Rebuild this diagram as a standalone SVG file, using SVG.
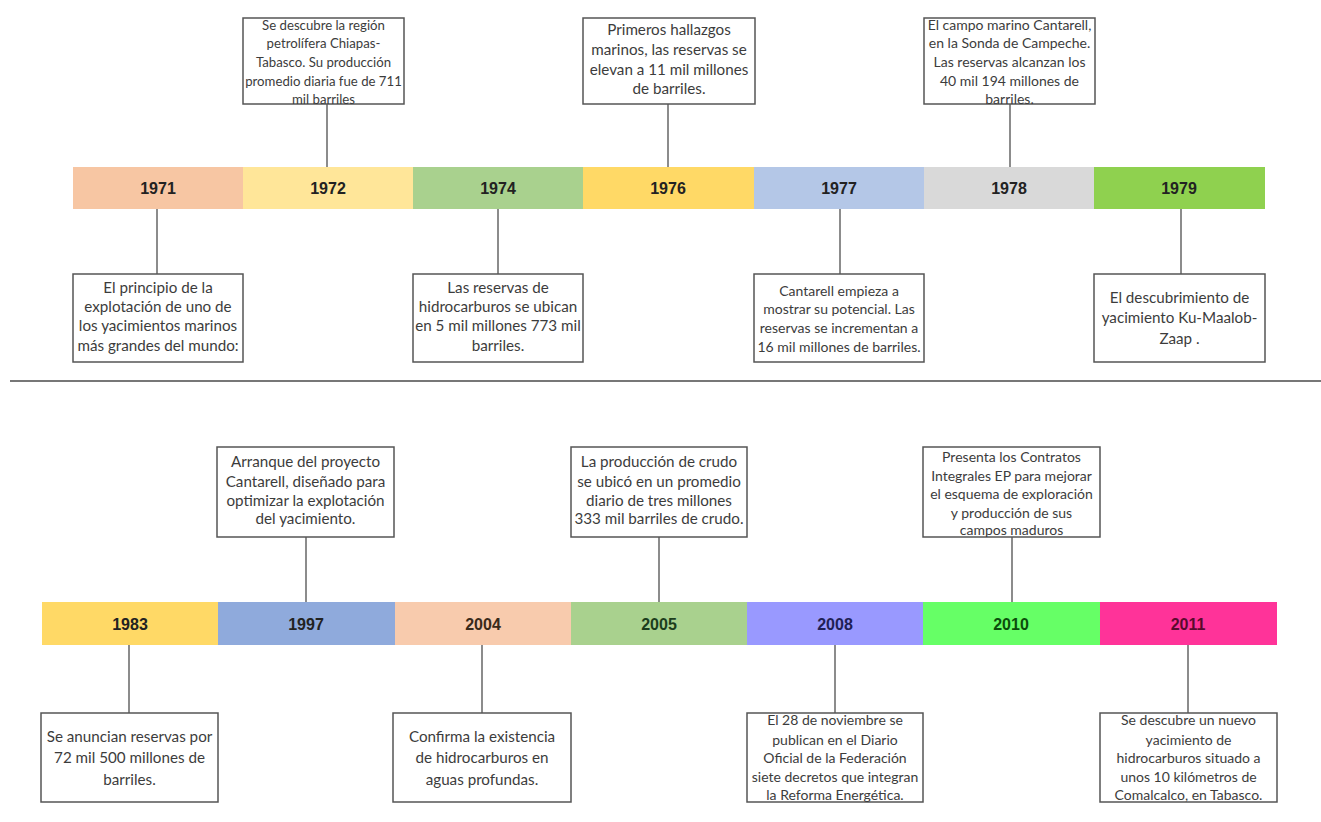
<svg xmlns="http://www.w3.org/2000/svg" width="1321" height="822" viewBox="0 0 1321 822">
<style>
.yr{font-family:"Liberation Sans",Arial,sans-serif;font-weight:bold;font-size:16px;text-anchor:middle;fill:#222}
.box{fill:#fff;stroke:#555;stroke-width:1.5}
.t{font-family:Lato,"Open Sans",sans-serif;font-size:15.2px;text-anchor:middle;fill:#3c3c3c}
.s{font-size:14px}
.xs{font-size:13.2px}
.con line{stroke:#666;stroke-width:1.5}
</style>
<rect width="1321" height="822" fill="#fff"/>
<g class="con" id="connectors">
<line x1="327" y1="104" x2="327" y2="167"/>
<line x1="668" y1="104" x2="668" y2="167"/>
<line x1="1010" y1="104" x2="1010" y2="167"/>
<line x1="157" y1="209" x2="157" y2="274"/>
<line x1="498" y1="209" x2="498" y2="274"/>
<line x1="840" y1="209" x2="840" y2="274"/>
<line x1="1181" y1="209" x2="1181" y2="274"/>
<line x1="306" y1="537" x2="306" y2="602"/>
<line x1="659" y1="537" x2="659" y2="602"/>
<line x1="1012" y1="537" x2="1012" y2="602"/>
<line x1="129" y1="645" x2="129" y2="713"/>
<line x1="482" y1="645" x2="482" y2="713"/>
<line x1="835" y1="645" x2="835" y2="713"/>
<line x1="1188" y1="645" x2="1188" y2="713"/>
</g>
<line id="separator" x1="10" y1="381" x2="1321" y2="381" stroke="#777" stroke-width="2"/>
<g id="bar1">
<rect x="73" y="167" width="170" height="42" fill="#F7C6A3"/>
<rect x="243" y="167" width="170" height="42" fill="#FFE699"/>
<rect x="413" y="167" width="170" height="42" fill="#A9D18E"/>
<rect x="583" y="167" width="171" height="42" fill="#FFD966"/>
<rect x="754" y="167" width="170" height="42" fill="#B4C7E7"/>
<rect x="924" y="167" width="170" height="42" fill="#D9D9D9"/>
<rect x="1094" y="167" width="171" height="42" fill="#8FD14F"/>
<text class="yr" x="158" y="194">1971</text>
<text class="yr" x="328" y="194">1972</text>
<text class="yr" x="498" y="194">1974</text>
<text class="yr" x="668" y="194">1976</text>
<text class="yr" x="839" y="194">1977</text>
<text class="yr" x="1009" y="194">1978</text>
<text class="yr" x="1179" y="194">1979</text>
</g>
<g id="bar2">
<rect x="42" y="602" width="176" height="43" fill="#FFD966"/>
<rect x="218" y="602" width="177" height="43" fill="#8FAADC"/>
<rect x="395" y="602" width="176" height="43" fill="#F8CBAD"/>
<rect x="571" y="602" width="176" height="43" fill="#A9D18E"/>
<rect x="747" y="602" width="176" height="43" fill="#9999FF"/>
<rect x="923" y="602" width="177" height="43" fill="#66FF66"/>
<rect x="1100" y="602" width="177" height="43" fill="#FF3399"/>
<text class="yr" x="130" y="630">1983</text>
<text class="yr" x="306" y="630">1997</text>
<text class="yr" x="483" y="630" style="fill:#3a2a1a">2004</text>
<text class="yr" x="659" y="630" style="fill:#1c3d1c">2005</text>
<text class="yr" x="835" y="630" style="fill:#1f1f55">2008</text>
<text class="yr" x="1011" y="630" style="fill:#0b4d0b">2010</text>
<text class="yr" x="1188" y="630" style="fill:#5a0a2e">2011</text>
</g>
<g id="n1972">
<rect class="box" x="243" y="18" width="161" height="86"/>
<text class="t xs" x="323.5" y="30">Se descubre  la región</text>
<text class="t xs" x="323.5" y="48">petrolífera  Chiapas-</text>
<text class="t xs" x="323.5" y="67">Tabasco. Su producción</text>
<text class="t xs" x="323.5" y="86">promedio diaria fue de 711</text>
<text class="t xs" x="323.5" y="104">mil barriles</text>
</g>
<g id="n1976">
<rect class="box" x="583" y="18" width="172" height="86"/>
<text class="t" x="669" y="35">Primeros hallazgos</text>
<text class="t" x="669" y="55">marinos, las reservas se</text>
<text class="t" x="669" y="75">elevan a 11 mil millones</text>
<text class="t" x="669" y="94">de barriles.</text>
</g>
<g id="n1978">
<rect class="box" x="924" y="18" width="171" height="86"/>
<text class="t s" x="1009.5" y="30">El campo marino Cantarell,</text>
<text class="t s" x="1009.5" y="48">en la Sonda de Campeche.</text>
<text class="t s" x="1009.5" y="67">Las reservas alcanzan los</text>
<text class="t s" x="1009.5" y="86">40 mil 194 millones de</text>
<text class="t s" x="1009.5" y="104">barriles.</text>
</g>
<g id="n1971">
<rect class="box" x="73" y="274" width="170" height="88"/>
<text class="t" x="158" y="293">El principio de la</text>
<text class="t" x="158" y="312">explotación de uno de</text>
<text class="t" x="158" y="331">los yacimientos marinos</text>
<text class="t" x="158" y="351">más grandes del mundo:</text>
</g>
<g id="n1974">
<rect class="box" x="413" y="274" width="170" height="88"/>
<text class="t" x="498" y="293">Las reservas de</text>
<text class="t" x="498" y="312">hidrocarburos se ubican</text>
<text class="t" x="498" y="331">en 5 mil millones 773 mil</text>
<text class="t" x="498" y="351">barriles.</text>
</g>
<g id="n1977">
<rect class="box" x="754" y="274" width="170" height="88"/>
<text class="t s" x="839" y="296">Cantarell empieza a</text>
<text class="t s" x="839" y="314">mostrar su potencial. Las</text>
<text class="t s" x="839" y="333">reservas se incrementan a</text>
<text class="t s" x="839" y="352">16 mil millones de barriles.</text>
</g>
<g id="n1979">
<rect class="box" x="1094" y="274" width="171" height="88"/>
<text class="t" x="1179.5" y="303">El descubrimiento de</text>
<text class="t" x="1179.5" y="323">yacimiento Ku-Maalob-</text>
<text class="t" x="1179.5" y="344">Zaap .</text>
</g>
<g id="n1997">
<rect class="box" x="217" y="447" width="177" height="90"/>
<text class="t" x="305.5" y="467">Arranque del proyecto</text>
<text class="t" x="305.5" y="487">Cantarell, diseñado para</text>
<text class="t" x="305.5" y="506">optimizar la explotación</text>
<text class="t" x="305.5" y="524">del yacimiento.</text>
</g>
<g id="n2005">
<rect class="box" x="571" y="447" width="176" height="90"/>
<text class="t" x="659" y="467">La producción de crudo</text>
<text class="t" x="659" y="487">se ubicó en un promedio</text>
<text class="t" x="659" y="506">diario de tres millones</text>
<text class="t" x="659" y="524">333 mil barriles de crudo.</text>
</g>
<g id="n2010">
<rect class="box" x="923" y="447" width="177" height="90"/>
<text class="t s" x="1011.5" y="462">Presenta los Contratos</text>
<text class="t s" x="1011.5" y="481">Integrales EP para mejorar</text>
<text class="t s" x="1011.5" y="499">el esquema de exploración</text>
<text class="t s" x="1011.5" y="518">y producción de sus</text>
<text class="t s" x="1011.5" y="535">campos maduros</text>
</g>
<g id="n1983">
<rect class="box" x="41" y="713" width="177" height="89"/>
<text class="t" x="129.5" y="742">Se anuncian reservas por</text>
<text class="t" x="129.5" y="763">72 mil 500 millones de</text>
<text class="t" x="129.5" y="785">barriles.</text>
</g>
<g id="n2004">
<rect class="box" x="393" y="713" width="178" height="89"/>
<text class="t" x="482" y="742">Confirma la existencia</text>
<text class="t" x="482" y="763">de hidrocarburos en</text>
<text class="t" x="482" y="785">aguas profundas.</text>
</g>
<g id="n2008">
<rect class="box" x="747" y="713" width="176" height="89"/>
<text class="t s" x="835" y="725">El 28 de noviembre se</text>
<text class="t s" x="835" y="745">publican en el Diario</text>
<text class="t s" x="835" y="763">Oficial de la Federación</text>
<text class="t s" x="835" y="782">siete decretos que integran</text>
<text class="t s" x="835" y="800">la Reforma Energética.</text>
</g>
<g id="n2011">
<rect class="box" x="1100" y="713" width="177" height="89"/>
<text class="t s" x="1188.5" y="725">Se descubre un nuevo</text>
<text class="t s" x="1188.5" y="745">yacimiento de</text>
<text class="t s" x="1188.5" y="763">hidrocarburos situado a</text>
<text class="t s" x="1188.5" y="782">unos 10 kilómetros de</text>
<text class="t s" x="1188.5" y="800">Comalcalco, en Tabasco.</text>
</g>
</svg>
